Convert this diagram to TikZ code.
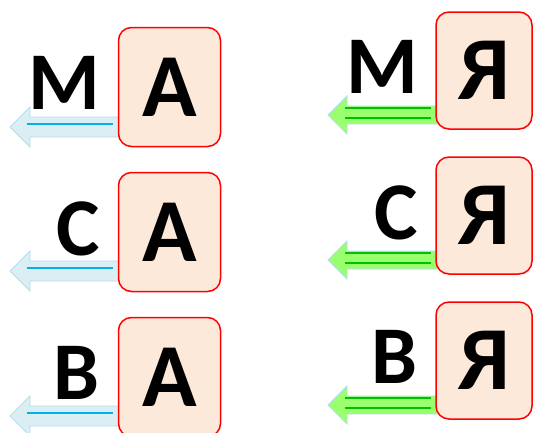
\documentclass[tikz,border=0pt]{standalone}
\usepackage{fontspec}
\setmainfont{Carlito}
\usetikzlibrary{calc,backgrounds}

\definecolor{boxfill}{RGB}{253,233,217}
\definecolor{pale}{RGB}{218,238,243}
\definecolor{paleedge}{RGB}{180,220,234}
\definecolor{cyanline}{RGB}{0,176,240}
\definecolor{lime}{RGB}{153,255,110}
\definecolor{darklime}{RGB}{0,192,0}

\begin{document}
\begin{tikzpicture}[x=1pt, y=-1pt,
	box/.style={draw=red, line width=1.5pt, fill=boxfill, rounded corners=13pt,
		font=\bfseries\fontsize{90}{90}\selectfont, inner sep=0pt},
	lbox/.style={box, minimum width=102pt, minimum height=119pt},
	rbox/.style={box, minimum width=96pt, minimum height=117pt},
	letter/.style={anchor=base east, inner sep=0pt, font=\bfseries\fontsize{82}{82}\selectfont},
	bluearrow/.style={draw=paleedge, fill=pale, line width=0.8pt},
	greenarrow/.style={draw=paleedge, fill=lime, line width=0.8pt},
	blueline/.style={cyanline, line width=2.3pt},
	greenline/.style={darklime, line width=2.5pt}]
	\useasboundingbox (0,0) rectangle (533,432);

	\node[lbox] (a1) at (169.5,87) {А};
	\node[lbox] (a2) at (169.5,232) {А};
	\node[lbox] (a3) at (169.5,377) {А};

	\node[rbox] (b1) at (484,70.5) {Я};
	\node[rbox] (b2) at (484,215.5) {Я};
	\node[rbox] (b3) at (484,360.5) {Я};

	\node[letter] (m1) at (100,109) {М};
	\node[letter] (c1) at (100,255) {С};
	\node[letter] (v1) at (100,399) {В};

	\node[letter] (m2) at (418,93) {М};
	\node[letter] (c2) at (418,239) {С};
	\node[letter] (v2) at (418,383) {В};

	\coordinate (t1) at (10,127);
	\coordinate (t2) at (10,271);
	\coordinate (t3) at (10,416);
	\coordinate (t4) at (328,115);
	\coordinate (t5) at (328,260);
	\coordinate (t6) at (328,405);

	\begin{scope}[on background layer]
	\draw[bluearrow] (t1) -- ++(20,-20) -- ++(0,10) -- ($(a1.west |- t1)+(8,-10)$) -- ++(0,20) -- ($(t1)+(20,10)$) -- ++(0,10) -- cycle;
	\draw[bluearrow] (t2) -- ++(20,-20) -- ++(0,10) -- ($(a2.west |- t2)+(8,-10)$) -- ++(0,20) -- ($(t2)+(20,10)$) -- ++(0,10) -- cycle;
	\draw[bluearrow] (t3) -- ++(20,-20) -- ++(0,10) -- ($(a3.west |- t3)+(8,-10)$) -- ++(0,20) -- ($(t3)+(20,10)$) -- ++(0,10) -- cycle;

	\draw[greenarrow] (t4) -- ++(19,-19) -- ++(0,10) -- ($(b1.west |- t4)+(8,-9)$) -- ++(0,18) -- ($(t4)+(19,9)$) -- ++(0,10) -- cycle;
	\draw[greenarrow] (t5) -- ++(19,-19) -- ++(0,10) -- ($(b2.west |- t5)+(8,-9)$) -- ++(0,18) -- ($(t5)+(19,9)$) -- ++(0,10) -- cycle;
	\draw[greenarrow] (t6) -- ++(19,-19) -- ++(0,10) -- ($(b3.west |- t6)+(8,-9)$) -- ++(0,18) -- ($(t6)+(19,9)$) -- ++(0,10) -- cycle;
	\end{scope}

	\draw[blueline] ($(t1)+(17,-3)$) -- ($(a1.west |- t1)+(-5,-3)$);
	\draw[blueline] ($(t2)+(17,-3)$) -- ($(a2.west |- t2)+(-5,-3)$);
	\draw[blueline] ($(t3)+(17,-3)$) -- ($(a3.west |- t3)+(-5,-3)$);

	\draw[greenline] ($(t4)+(17,-7)$) -- ($(b1.west |- t4)+(-4,-7)$);
	\draw[greenline] ($(t4)+(17,3)$) -- ($(b1.west |- t4)+(-4,3)$);
	\draw[greenline] ($(t5)+(17,-7)$) -- ($(b2.west |- t5)+(-4,-7)$);
	\draw[greenline] ($(t5)+(17,3)$) -- ($(b2.west |- t5)+(-4,3)$);
	\draw[greenline] ($(t6)+(17,-7)$) -- ($(b3.west |- t6)+(-4,-7)$);
	\draw[greenline] ($(t6)+(17,3)$) -- ($(b3.west |- t6)+(-4,3)$);

\end{tikzpicture}
\end{document}
